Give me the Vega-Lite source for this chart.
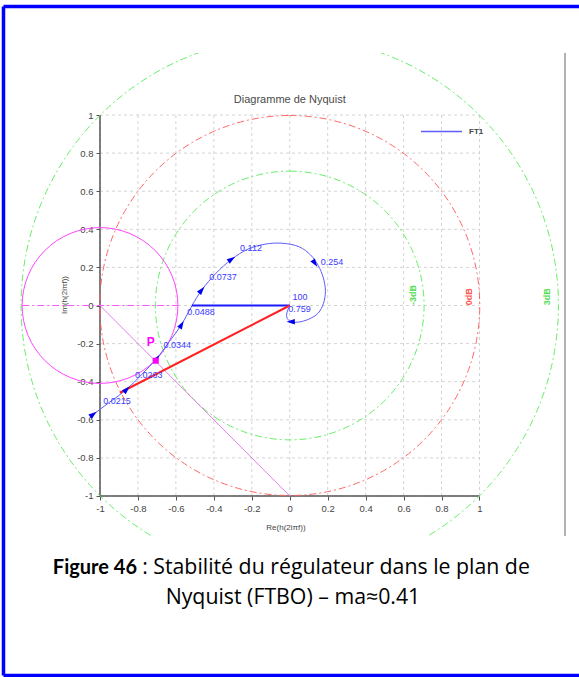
{
  "$schema": "https://vega.github.io/schema/vega-lite/v6.json",
  "width": 559,
  "height": 483,
  "autosize": {"type": "none"},
  "padding": {"left": 6, "top": 53, "right": 14, "bottom": 141},
  "background": "white",
  "config": {"view": {"stroke": null}, "font": "Liberation Sans"},
  "data": {"values": [{}]},
  "datasets": {
    "grid": [{"g": -1}, {"g": -0.8}, {"g": -0.6}, {"g": -0.4}, {"g": -0.2}, {"g": 0}, {"g": 0.2}, {"g": 0.4}, {"g": 0.6}, {"g": 0.8}, {"g": 1}],
    "circles": [
      {"name": "3dB", "r": 1.4142, "lx": 1.355, "ly": 0.046},
      {"name": "0dB", "r": 1.0, "lx": 0.946, "ly": 0.046},
      {"name": "-3dB", "r": 0.7071, "lx": 0.651, "ly": 0.055}
    ],
    "margin": [{"cx": -1, "cy": 0, "r": 0.41}],
    "segments": [
      {"seg": "gain", "x": -0.515, "y": 0, "x2": 0, "y2": 0},
      {"seg": "phase", "x": 0, "y": 0, "x2": -0.895, "y2": -0.458},
      {"seg": "diag", "x": -1, "y": 0, "x2": 0, "y2": -1},
      {"seg": "horiz", "x": -1.41, "y": 0, "x2": -0.59, "y2": 0}
    ],
    "curve": [
      {"i": 0, "x": -1.035, "y": -0.571},
      {"i": 1, "x": -0.95, "y": -0.508},
      {"i": 2, "x": -0.859, "y": -0.44},
      {"i": 3, "x": -0.78, "y": -0.362},
      {"i": 4, "x": -0.70, "y": -0.277},
      {"i": 5, "x": -0.635, "y": -0.19},
      {"i": 6, "x": -0.57, "y": -0.10},
      {"i": 7, "x": -0.515, "y": 0.0},
      {"i": 8, "x": -0.464, "y": 0.081},
      {"i": 9, "x": -0.39, "y": 0.168},
      {"i": 10, "x": -0.306, "y": 0.243},
      {"i": 11, "x": -0.22, "y": 0.296},
      {"i": 12, "x": -0.13, "y": 0.322},
      {"i": 13, "x": -0.04, "y": 0.327},
      {"i": 14, "x": 0.05, "y": 0.308},
      {"i": 15, "x": 0.11, "y": 0.265},
      {"i": 16, "x": 0.15, "y": 0.21},
      {"i": 17, "x": 0.177, "y": 0.145},
      {"i": 18, "x": 0.188, "y": 0.075},
      {"i": 19, "x": 0.178, "y": 0.012},
      {"i": 20, "x": 0.15, "y": -0.04},
      {"i": 21, "x": 0.10, "y": -0.072},
      {"i": 22, "x": 0.045, "y": -0.087},
      {"i": 23, "x": 0.005, "y": -0.085},
      {"i": 24, "x": -0.016, "y": -0.06},
      {"i": 25, "x": -0.012, "y": -0.028},
      {"i": 26, "x": 0.0, "y": 0.0}
    ],
    "freqs": [
      {"f": "0.0215", "x": -1.035, "y": -0.571, "dir": 53, "lx": -0.983, "ly": -0.501},
      {"f": "0.0263", "x": -0.859, "y": -0.44, "dir": 44, "lx": -0.816, "ly": -0.365},
      {"f": "0.0344", "x": -0.70, "y": -0.277, "dir": 38, "lx": -0.666, "ly": -0.207},
      {"f": "0.0488", "x": -0.57, "y": -0.10, "dir": 30, "lx": -0.54, "ly": -0.033},
      {"f": "0.0737", "x": -0.464, "y": 0.081, "dir": 40, "lx": -0.424, "ly": 0.148},
      {"f": "0.112", "x": -0.306, "y": 0.243, "dir": 56, "lx": -0.262, "ly": 0.30},
      {"f": "0.254", "x": 0.133, "y": 0.221, "dir": 146, "lx": 0.163, "ly": 0.227},
      {"f": "0.759", "x": 0.005, "y": -0.085, "dir": 270, "lx": -0.008, "ly": -0.017}
    ],
    "ends": [{"f": "100", "lx": 0.015, "ly": 0.043}],
    "point": [{"name": "P", "x": -0.706, "y": -0.29, "lx": -0.733, "ly": -0.19}],
    "frame": [
      {"side": "left", "x": -1.5086, "x2": -1.5086, "y": 1.5696, "y2": -1.9423},
      {"side": "top", "x": -1.5086, "x2": 1.75, "y": 1.5696, "y2": 1.5696},
      {"side": "bottom", "x": -1.5086, "x2": 1.75, "y": -1.9423, "y2": -1.9423}
    ]
  },
  "layer": [
    {
      "data": {"name": "grid"},
      "mark": {"type": "rule", "stroke": "#d4d4d4", "strokeDash": [3, 3], "strokeWidth": 1},
      "encoding": {
        "x": {
          "field": "g", "type": "quantitative",
          "scale": {"domain": [-1.4954, 1.4506], "nice": false, "zero": false},
          "axis": {
            "title": "Re(h(2iπf))",
            "values": [-1, -0.9, -0.8, -0.7, -0.6, -0.5, -0.4, -0.3, -0.2, -0.1, 0, 0.1, 0.2, 0.3, 0.4, 0.5, 0.6, 0.7, 0.8, 0.9, 1],
            "domain": false, "grid": false, "offset": -40,
            "labelExpr": "abs(round(datum.value*10)) % 2 == 1 ? '' : '' + datum.value",
            "tickSize": {"condition": {"test": "abs(round(datum.value*10)) % 2 == 1", "value": 2}, "value": 4},
            "tickColor": "#555555", "tickWidth": 1,
            "labelColor": "#444444", "labelFontSize": 9.5, "labelPadding": 3,
            "labelFlush": false, "labelOverlap": false,
            "titleFontSize": 8, "titleFontWeight": "normal", "titleColor": "#444444", "titlePadding": 11
          }
        },
        "y": {
          "datum": -1, "type": "quantitative",
          "scale": {"domain": [-1.21, 1.3255], "nice": false, "zero": false},
          "axis": {
            "title": "Im(h(2iπf))",
            "values": [-1, -0.9, -0.8, -0.7, -0.6, -0.5, -0.4, -0.3, -0.2, -0.1, 0, 0.1, 0.2, 0.3, 0.4, 0.5, 0.6, 0.7, 0.8, 0.9, 1],
            "domain": false, "grid": false, "offset": -94,
            "labelExpr": "abs(round(datum.value*10)) % 2 == 1 ? '' : '' + datum.value",
            "tickSize": {"condition": {"test": "abs(round(datum.value*10)) % 2 == 1", "value": 2}, "value": 4},
            "tickColor": "#555555", "tickWidth": 1,
            "labelColor": "#444444", "labelFontSize": 9.5, "labelPadding": 3,
            "labelFlush": false, "labelOverlap": false,
            "titleFontSize": 8, "titleFontWeight": "normal", "titleColor": "#444444", "titlePadding": 8
          }
        },
        "y2": {"datum": 1}
      }
    },
    {
      "data": {"name": "grid"},
      "mark": {"type": "rule", "stroke": "#d4d4d4", "strokeDash": [3, 3], "strokeWidth": 1},
      "encoding": {
        "y": {"field": "g", "type": "quantitative"},
        "x": {"datum": -1, "type": "quantitative"},
        "x2": {"datum": 1}
      }
    },
    {
      "mark": {"type": "rule", "stroke": "#555555", "strokeWidth": 1.5},
      "encoding": {
        "x": {"datum": -1, "type": "quantitative"},
        "y": {"datum": -1, "type": "quantitative"},
        "y2": {"datum": 1}
      }
    },
    {
      "mark": {"type": "rule", "stroke": "#555555", "strokeWidth": 1.5},
      "encoding": {
        "y": {"datum": -1, "type": "quantitative"},
        "x": {"datum": -1, "type": "quantitative"},
        "x2": {"datum": 1}
      }
    },
    {
      "data": {"name": "circles"},
      "mark": {"type": "arc", "theta": 0, "theta2": 6.2832, "fill": null, "fillOpacity": 0, "strokeWidth": 1, "strokeDash": [7, 3, 2, 3], "clip": true},
      "encoding": {
        "x": {"datum": 0, "type": "quantitative"},
        "y": {"datum": 0, "type": "quantitative"},
        "radius": {"field": "r", "type": "quantitative", "stack": null, "scale": {"type": "linear", "domain": [0, 1], "range": [0, 190], "zero": true}},
        "stroke": {"field": "name", "type": "nominal", "scale": {"domain": ["3dB", "0dB", "-3dB"], "range": ["#66ee66", "#ff6666", "#66ee66"]}, "legend": null}
      }
    },
    {
      "data": {"name": "circles"},
      "mark": {"type": "text", "angle": 270, "fontSize": 9, "fontWeight": "bold", "align": "center", "baseline": "middle"},
      "encoding": {
        "x": {"field": "lx", "type": "quantitative"},
        "y": {"field": "ly", "type": "quantitative"},
        "text": {"field": "name"},
        "fill": {"field": "name", "type": "nominal", "scale": {"domain": ["3dB", "0dB", "-3dB"], "range": ["#55dd55", "#ff5555", "#55dd55"]}, "legend": null}
      }
    },
    {
      "data": {"name": "margin"},
      "mark": {"type": "arc", "theta": 0, "theta2": 6.2832, "fill": null, "fillOpacity": 0, "stroke": "#ff44ff", "strokeWidth": 1, "clip": true},
      "encoding": {
        "x": {"field": "cx", "type": "quantitative"},
        "y": {"field": "cy", "type": "quantitative"},
        "radius": {"field": "r", "type": "quantitative", "stack": null}
      }
    },
    {
      "data": {"name": "segments"},
      "transform": [{"filter": "datum.seg == 'horiz'"}],
      "mark": {"type": "rule", "stroke": "#ff55ff", "strokeWidth": 1, "strokeDash": [7, 3, 2, 3]},
      "encoding": {
        "x": {"field": "x", "type": "quantitative"},
        "y": {"field": "y", "type": "quantitative"},
        "x2": {"field": "x2"},
        "y2": {"field": "y2"}
      }
    },
    {
      "data": {"name": "segments"},
      "transform": [{"filter": "datum.seg == 'diag'"}],
      "mark": {"type": "rule", "stroke": "#e67ee6", "strokeWidth": 1},
      "encoding": {
        "x": {"field": "x", "type": "quantitative"},
        "y": {"field": "y", "type": "quantitative"},
        "x2": {"field": "x2"},
        "y2": {"field": "y2"}
      }
    },
    {
      "data": {"name": "curve"},
      "mark": {"type": "line", "strokeWidth": 1, "interpolate": "catmull-rom"},
      "encoding": {
        "x": {"field": "x", "type": "quantitative"},
        "y": {"field": "y", "type": "quantitative"},
        "order": {"field": "i", "type": "quantitative"},
        "color": {
          "datum": "FT1",
          "scale": {"domain": ["FT1"], "range": ["#5c5cff"]},
          "legend": {
            "title": null, "orient": "none", "legendX": 414, "legendY": 57,
            "symbolType": "stroke", "symbolSize": 1681, "symbolStrokeWidth": 1.5,
            "labelFontSize": 8, "labelFontWeight": "bold", "labelColor": "#444444", "labelOffset": 6, "padding": 0
          }
        }
      }
    },
    {
      "data": {"name": "segments"},
      "transform": [{"filter": "datum.seg == 'gain'"}],
      "mark": {"type": "rule", "stroke": "#1a1aff", "strokeWidth": 2},
      "encoding": {
        "x": {"field": "x", "type": "quantitative"},
        "y": {"field": "y", "type": "quantitative"},
        "x2": {"field": "x2"},
        "y2": {"field": "y2"}
      }
    },
    {
      "data": {"name": "segments"},
      "transform": [{"filter": "datum.seg == 'phase'"}],
      "mark": {"type": "rule", "stroke": "#ff2020", "strokeWidth": 2},
      "encoding": {
        "x": {"field": "x", "type": "quantitative"},
        "y": {"field": "y", "type": "quantitative"},
        "x2": {"field": "x2"},
        "y2": {"field": "y2"}
      }
    },
    {
      "data": {"name": "freqs"},
      "mark": {"type": "point", "shape": "M0,-1L0.65,1L-0.65,1Z", "filled": true, "fill": "#0000ee", "size": 70, "opacity": 1},
      "encoding": {
        "x": {"field": "x", "type": "quantitative"},
        "y": {"field": "y", "type": "quantitative"},
        "angle": {"field": "dir", "type": "quantitative", "scale": null}
      }
    },
    {
      "data": {"name": "freqs"},
      "mark": {"type": "text", "fontSize": 9, "fill": "#3a3aff", "align": "left", "baseline": "middle"},
      "encoding": {
        "x": {"field": "lx", "type": "quantitative"},
        "y": {"field": "ly", "type": "quantitative"},
        "text": {"field": "f"}
      }
    },
    {
      "data": {"name": "ends"},
      "mark": {"type": "text", "fontSize": 9, "fill": "#3a3aff", "align": "left", "baseline": "middle"},
      "encoding": {
        "x": {"field": "lx", "type": "quantitative"},
        "y": {"field": "ly", "type": "quantitative"},
        "text": {"field": "f"}
      }
    },
    {
      "data": {"name": "point"},
      "mark": {"type": "point", "shape": "square", "filled": true, "fill": "#ff00ff", "size": 36, "opacity": 1},
      "encoding": {
        "x": {"field": "x", "type": "quantitative"},
        "y": {"field": "y", "type": "quantitative"}
      }
    },
    {
      "data": {"name": "point"},
      "mark": {"type": "text", "fontSize": 12, "fontWeight": "bold", "fill": "#ff00ff", "align": "center", "baseline": "middle"},
      "encoding": {
        "x": {"field": "lx", "type": "quantitative"},
        "y": {"field": "ly", "type": "quantitative"},
        "text": {"field": "name"}
      }
    },
    {
      "mark": {"type": "text", "text": "Diagramme de Nyquist", "fontSize": 11, "fill": "#4a4a4a", "align": "center", "baseline": "middle"},
      "encoding": {
        "x": {"datum": 0, "type": "quantitative"},
        "y": {"datum": 1.079, "type": "quantitative"}
      }
    },
    {
      "mark": {"type": "rule", "stroke": "#999999", "strokeWidth": 1.5},
      "encoding": {
        "x": {"value": "width"},
        "y": {"value": 0},
        "y2": {"value": "height"}
      }
    },
    {
      "data": {"name": "frame"},
      "mark": {"type": "rule", "stroke": "#0000ff", "strokeWidth": 3.5},
      "encoding": {
        "x": {"field": "x", "type": "quantitative"},
        "x2": {"field": "x2"},
        "y": {"field": "y", "type": "quantitative"},
        "y2": {"field": "y2"}
      }
    },
    {
      "mark": {"type": "text", "text": "Figure 46", "font": "Lato", "fontSize": 20, "fontWeight": "bold", "fill": "#000000", "align": "right", "baseline": "middle"},
      "encoding": {
        "x": {"datum": -0.805, "type": "quantitative"},
        "y": {"datum": -1.378, "type": "quantitative"}
      }
    },
    {
      "mark": {"type": "text", "text": ": Stabilité du régulateur dans le plan de", "font": "Open Sans", "fontSize": 21.3, "fill": "#000000", "align": "left", "baseline": "middle"},
      "encoding": {
        "x": {"datum": -0.778, "type": "quantitative"},
        "y": {"datum": -1.378, "type": "quantitative"}
      }
    },
    {
      "mark": {"type": "text", "text": "Nyquist (FTBO) – ma≈0.41", "font": "Open Sans", "fontSize": 21.3, "fill": "#000000", "align": "center", "baseline": "middle"},
      "encoding": {
        "x": {"datum": 0.017, "type": "quantitative"},
        "y": {"datum": -1.5344, "type": "quantitative"}
      }
    }
  ]
}
